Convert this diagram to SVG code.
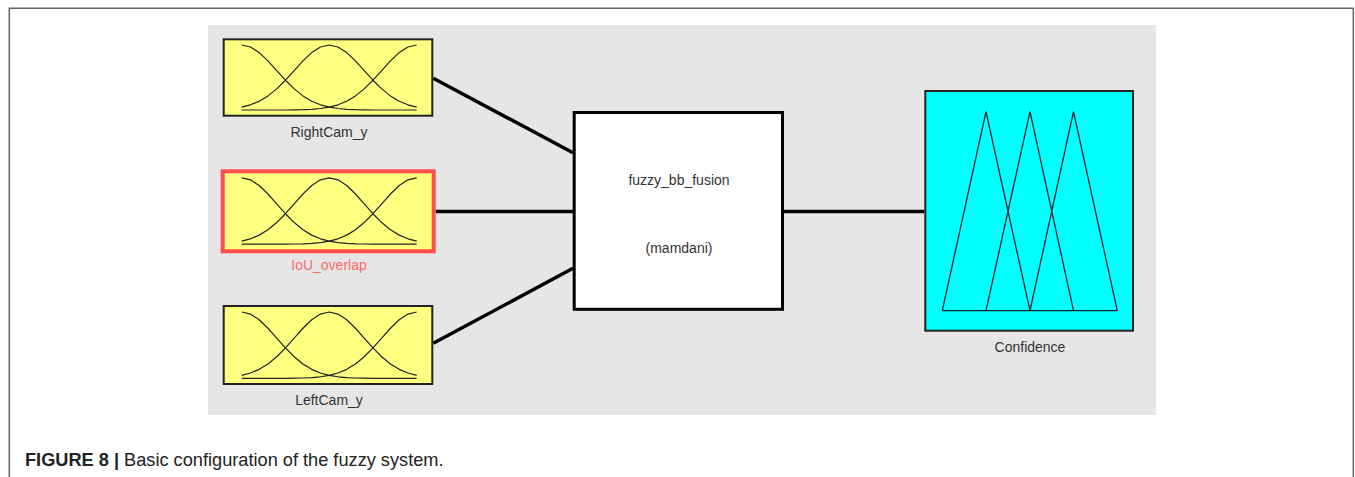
<svg xmlns="http://www.w3.org/2000/svg" xmlns:xlink="http://www.w3.org/1999/xlink" width="1355" height="477" viewBox="0 0 1355 477">
<style>
.lbl{font-family:"Liberation Sans",Arial,sans-serif;font-size:14px;fill:#333;text-anchor:middle}
.mf{fill:none;stroke:#222;stroke-width:1.2;stroke-linejoin:round}
.inbox{fill:#ffff80;stroke:#222;stroke-width:2}
.conn{stroke:#000;stroke-width:3.5;fill:none}
.tri{fill:none;stroke:#123;stroke-width:1.3;stroke-linejoin:miter}
</style>
<defs>
<g id="gauss">
<polyline class="mf" points="0,0 8.75,2 17.5,7.6 26.25,15.9 35,25.6 43.75,35.2 52.5,43.9 61.25,50.9 70,56.2 78.75,59.8 87.5,62.1 96.25,63.5 105,64.3 113.75,64.7 122.5,64.9 131.25,65 175,65"/>
<polyline class="mf" points="0,62.1 8.75,59.8 17.5,56.2 26.25,50.9 35,43.9 43.75,35.2 52.5,25.6 61.25,15.9 70,7.6 78.75,2 87.5,0 96.25,2 105,7.6 113.75,15.9 122.5,25.6 131.25,35.2 140,43.9 148.75,50.9 157.5,56.2 166.25,59.8 175,62.1"/>
<polyline class="mf" points="0,65 43.75,65 52.5,64.9 61.25,64.7 70,64.3 78.75,63.5 87.5,62.1 96.25,59.8 105,56.2 113.75,50.9 122.5,43.9 131.25,35.2 140,25.6 148.75,15.9 157.5,7.6 166.25,2 175,0"/>
</g>
</defs>
<rect width="1355" height="477" fill="#fff"/>
<path d="M9.3,477 V8.3 H1353.3 V477" fill="none" stroke="#666" stroke-width="1.5"/>
<rect x="208" y="25" width="948" height="390" fill="#e6e6e6"/>
<g id="connectors">
<line class="conn" x1="433.3" y1="78.3" x2="573" y2="152.7"/>
<line class="conn" x1="435.7" y1="211.5" x2="573" y2="211.5"/>
<line class="conn" x1="433.3" y1="343.3" x2="573" y2="268.3"/>
<line class="conn" x1="784" y1="211.5" x2="924.3" y2="211.5"/>
</g>
<g id="RightCam_y">
<rect class="inbox" x="223.7" y="39.3" width="208.6" height="76.4"/>
<use xlink:href="#gauss" transform="translate(241.7,45)"/>
<text class="lbl" x="329" y="136.5">RightCam_y</text>
</g>
<g id="IoU_overlap">
<rect x="222.7" y="171.3" width="211" height="80" fill="#ffff80" stroke="#ff4d4d" stroke-width="4"/>
<use xlink:href="#gauss" transform="translate(241.7,177.8) scale(1,1.02)"/>
<text class="lbl" x="329" y="270" style="fill:#ff6b6b">IoU_overlap</text>
</g>
<g id="LeftCam_y">
<rect class="inbox" x="223.7" y="306" width="208.6" height="78"/>
<use xlink:href="#gauss" transform="translate(241.7,312) scale(1,1.02)"/>
<text class="lbl" x="329" y="404.5">LeftCam_y</text>
</g>
<g id="fuzzy_bb_fusion">
<rect x="574.2" y="112.5" width="208.3" height="196.8" fill="#fff" stroke="#000" stroke-width="3"/>
<text class="lbl" x="679" y="185">fuzzy_bb_fusion</text>
<text class="lbl" x="679" y="252.5">(mamdani)</text>
</g>
<g id="Confidence">
<rect x="925.3" y="91" width="207.7" height="239.7" fill="#00ffff" stroke="#222" stroke-width="2"/>
<polyline class="tri" points="942.3,310.7 986,111.7 1030,310.7"/>
<polyline class="tri" points="986,310.7 1030,111.7 1073.5,310.7"/>
<polyline class="tri" points="1030,310.7 1073.5,111.7 1117.3,310.7"/>
<line class="tri" x1="942.3" y1="310.7" x2="1117.3" y2="310.7"/>
<text class="lbl" x="1030" y="351.5">Confidence</text>
</g>
<text x="25" y="465.7" font-family="'Liberation Sans',Arial,sans-serif" font-size="18.2" fill="#222"><tspan font-weight="bold">FIGURE 8 |</tspan> Basic configuration of the fuzzy system.</text>
</svg>
